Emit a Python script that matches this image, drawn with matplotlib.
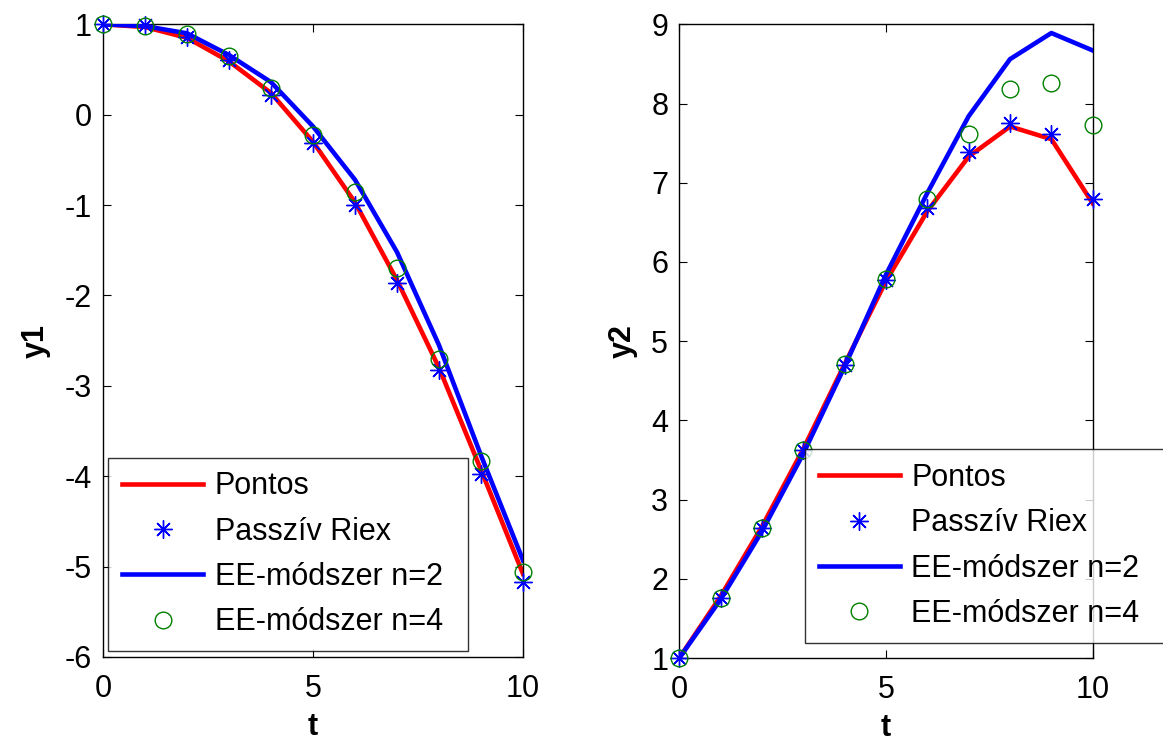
import matplotlib
matplotlib.use("Agg")
import matplotlib.pyplot as plt
from matplotlib.lines import Line2D

plt.rcParams['font.family'] = ['Liberation Sans', 'DejaVu Sans']
plt.rcParams['axes.unicode_minus'] = False

t = list(range(11))

# Left panel (y1)
y1_pontos = [1.0, 0.97, 0.85, 0.59, 0.24, -0.30, -0.97, -1.83, -2.80, -3.93, -5.08]
y1_riex = [1.0, 0.99, 0.86, 0.60, 0.22, -0.31, -1.00, -1.86, -2.83, -3.97, -5.17]
y1_ee2 = [1.0, 0.98, 0.90, 0.66, 0.36, -0.13, -0.72, -1.52, -2.55, -3.77, -4.93]
y1_ee4 = [1.0, 0.98, 0.89, 0.65, 0.30, -0.23, -0.85, -1.70, -2.70, -3.83, -5.06]

# Right panel (y2)
y2_pontos = [1.0, 1.78, 2.66, 3.64, 4.71, 5.76, 6.64, 7.33, 7.71, 7.55, 6.74]
y2_riex = [1.0, 1.76, 2.64, 3.63, 4.70, 5.77, 6.68, 7.39, 7.76, 7.62, 6.79]
y2_ee2 = [1.0, 1.74, 2.60, 3.58, 4.68, 5.84, 6.87, 7.84, 8.56, 8.89, 8.67]
y2_ee4 = [1.0, 1.76, 2.64, 3.63, 4.71, 5.78, 6.80, 7.62, 8.18, 8.26, 7.73]

labels = ['Pontos', 'Passzív Riex', 'EE-módszer n=2', 'EE-módszer n=4']
xticks = [0, 5, 10]
y1_ticks = [-6, -5, -4, -3, -2, -1, 0, 1]
y2_ticks = [1, 2, 3, 4, 5, 6, 7, 8, 9]

W, H = 1163, 742
fig = plt.figure(figsize=(W / 100, H / 100), dpi=100)

ax1 = fig.add_axes([103 / W, 1 - 657 / H, 420 / W, (657 - 24.3) / H])
ax2 = fig.add_axes([679.3 / W, 1 - 658 / H, 413.4 / W, (658 - 24.3) / H])

asterisk = (8, 2, 0)
FS = 22


def draw(ax, yp, yr, ye2, ye4, yticks, ylabel, ylim):
    ax.plot(t, yp, color='red', lw=3.3, zorder=2)
    ax.plot(t, yr, linestyle='none', marker=asterisk, ms=13, mec='blue', mew=1.0,
            color='blue', clip_on=False, zorder=3)
    ax.plot(t, ye2, color='blue', lw=3.3, zorder=4)
    ax.plot(t, ye4, linestyle='none', marker='o', ms=12, mfc='none', mec='green',
            mew=1.0, clip_on=False, zorder=5)
    ax.set_xlim(0, 10)
    ax.set_ylim(*ylim)
    ax.set_xticks(xticks)
    ax.set_yticks(yticks)
    ax.tick_params(direction='in', length=6, width=0.8, top=True, right=True,
                   labelsize=FS, pad=8)
    ax.tick_params(axis='x', pad=12)
    for s in ax.spines.values():
        s.set_linewidth(1.0)
        s.set_color('black')
    ax.set_xlabel('t', fontsize=FS, fontweight='bold', labelpad=6)
    ax.set_ylabel(ylabel, fontsize=FS, fontweight='bold', labelpad=10)


draw(ax1, y1_pontos, y1_riex, y1_ee2, y1_ee4, y1_ticks, 'y1', (-6, 1))
draw(ax2, y2_pontos, y2_riex, y2_ee2, y2_ee4, y2_ticks, 'y2', (1, 9))

handles = [
    Line2D([], [], color='red', lw=3.3),
    Line2D([], [], linestyle='none', marker=asterisk, ms=13, mec='blue', mew=1.0),
    Line2D([], [], color='blue', lw=3.3),
    Line2D([], [], linestyle='none', marker='o', ms=12, mfc='none', mec='green', mew=1.0),
]


def add_legend(ax, x0, y0, width):
    leg = ax.legend(handles, labels, loc='upper left', mode='expand',
                    bbox_to_anchor=(x0 / W, 1 - y0 / H, width / W, 0.0),
                    bbox_transform=fig.transFigure,
                    borderaxespad=0, fontsize=FS, frameon=True, fancybox=False,
                    handlelength=2.65, handletextpad=0.38, labelspacing=0.5,
                    borderpad=0.45)
    leg.get_frame().set_edgecolor('black')
    leg.get_frame().set_linewidth(1.0)
    leg.set_zorder(10)
    return leg


add_legend(ax1, 108.3, 457.7, 360)
add_legend(ax2, 805, 449.3, 360)

fig.savefig('out.png', dpi=100)
